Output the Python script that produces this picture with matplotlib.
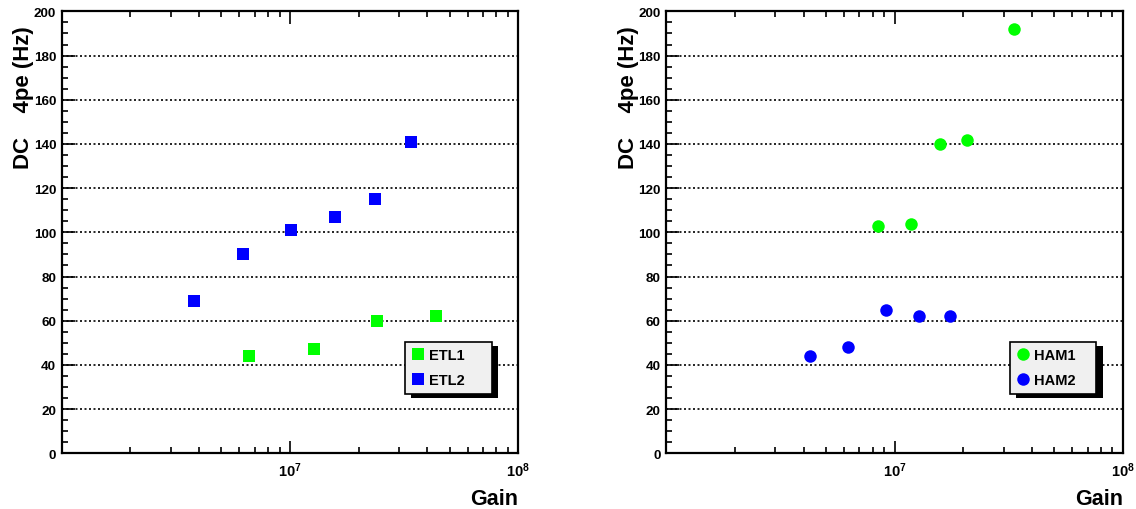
import numpy as np
import matplotlib
matplotlib.use("Agg")
import matplotlib.pyplot as plt
import matplotlib.patheffects as pe
from matplotlib.ticker import FixedLocator, LogLocator, NullFormatter

plt.rcParams['font.family'] = ['Liberation Sans', 'DejaVu Sans']
plt.rcParams['font.weight'] = 'bold'
plt.rcParams['mathtext.fontset'] = 'custom'
plt.rcParams['mathtext.rm'] = 'Liberation Sans:bold'
plt.rcParams['mathtext.bf'] = 'Liberation Sans:bold'

# left panel: ETL tubes
etl1_gain = [6.6e6, 1.27e7, 2.40e7, 4.36e7]
etl1_dc = [44, 47, 60, 62]
etl2_gain = [3.8e6, 6.22e6, 1.013e7, 1.578e7, 2.364e7, 3.39e7]
etl2_dc = [69, 90, 101, 107, 115, 141]

# right panel: HAM tubes
ham1_gain = [8.48e6, 1.18e7, 1.585e7, 2.07e7, 3.34e7]
ham1_dc = [103, 104, 140, 142, 192]
ham2_gain = [4.27e6, 6.26e6, 9.19e6, 1.278e7, 1.752e7]
ham2_dc = [44, 48, 65, 62, 62]

xticks = [1e7, 1e8]
xticklabels = [r'$\mathbf{10^{7}}$', r'$\mathbf{10^{8}}$']
yticks = [0, 20, 40, 60, 80, 100, 120, 140, 160, 180, 200]

GREEN = '#00ff00'
BLUE = '#0000ff'

fig = plt.figure(figsize=(11.36, 5.10), dpi=100)
ax1 = fig.add_axes([0.0543, 0.1092, 0.4019, 0.8665])
ax2 = fig.add_axes([0.5866, 0.1092, 0.4019, 0.8665])


def style(ax):
    ax.set_xscale('log')
    ax.set_xlim(1e6, 1e8)
    ax.set_ylim(0, 200)
    ax.xaxis.set_major_locator(FixedLocator(xticks))
    ax.set_xticklabels(xticklabels)
    ax.xaxis.set_minor_locator(LogLocator(base=10, subs=np.arange(2, 10)))
    ax.xaxis.set_minor_formatter(NullFormatter())
    ax.set_yticks(yticks)
    ax.yaxis.set_minor_locator(FixedLocator(np.arange(0, 201, 5)))
    ax.tick_params(which='both', direction='in', top=True, right=False,
                   width=1.2, labelsize=9.7, pad=4)
    ax.tick_params(axis='x', which='major', labelsize=10.5, pad=5)
    ax.tick_params(which='major', length=9)
    ax.tick_params(which='minor', length=4.5)
    for s in ax.spines.values():
        s.set_linewidth(1.6)
    ax.grid(axis='y', which='major', color='black', linewidth=1.2,
            linestyle=(0, (1.2, 1.5)))
    ax.set_axisbelow(True)
    ax.set_xlabel('Gain', fontsize=15.5, fontweight='bold', loc='right')
    ax.xaxis.set_label_coords(1.0, -0.078)
    ax.set_ylabel('DC    4pe (Hz)', fontsize=16, fontweight='bold', loc='top')
    ax.yaxis.set_label_coords(-0.061, 0.968)


def legend(ax):
    leg = ax.legend(loc='upper left', bbox_to_anchor=(0.752, 0.153, 0.19, 0.1),
                    mode='expand', borderaxespad=0, fancybox=False,
                    framealpha=1, edgecolor='black', facecolor='#f0f0f0',
                    prop={'weight': 'bold', 'size': 10.5},
                    handlelength=0.9, handletextpad=0.3, borderpad=0.45,
                    labelspacing=0.75)
    fr = leg.get_frame()
    fr.set_linewidth(1.2)
    fr.set_path_effects([pe.SimplePatchShadow(offset=(4.5, -3), shadow_rgbFace='black',
                                              alpha=1.0),
                         pe.Normal()])


ax1.plot(etl1_gain, etl1_dc, 's', color=GREEN, markersize=9, markeredgewidth=0,
         label='ETL1', zorder=3)
ax1.plot(etl2_gain, etl2_dc, 's', color=BLUE, markersize=9, markeredgewidth=0,
         label='ETL2', zorder=3)
style(ax1)
legend(ax1)

ax2.plot(ham1_gain, ham1_dc, 'o', color=GREEN, markersize=9, markeredgewidth=0,
         label='HAM1', zorder=3)
ax2.plot(ham2_gain, ham2_dc, 'o', color=BLUE, markersize=9, markeredgewidth=0,
         label='HAM2', zorder=3)
style(ax2)
legend(ax2)

fig.savefig('out.png', dpi=100)
